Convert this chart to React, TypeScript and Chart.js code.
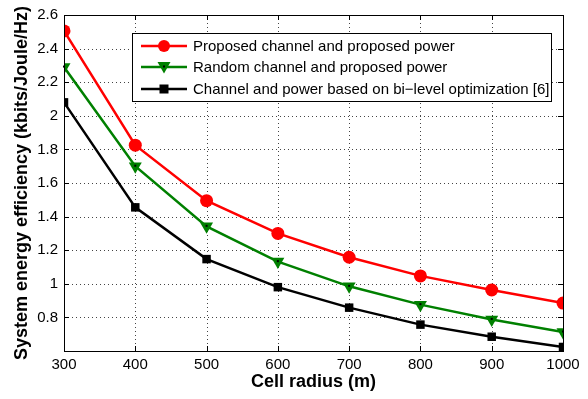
import React, { useEffect, useRef } from "react";
import { Chart, registerables } from "chart.js";

Chart.register(...registerables);

const cellRadius = [300, 400, 500, 600, 700, 800, 900, 1000];
const proposedChannelProposedPower = [2.505, 1.825, 1.495, 1.3, 1.158, 1.047, 0.963, 0.885];
const randomChannelProposedPower = [2.29, 1.7, 1.342, 1.132, 0.985, 0.876, 0.788, 0.713];
const biLevelOptimization = [2.08, 1.455, 1.147, 0.98, 0.858, 0.757, 0.685, 0.624];
const seriesLabels = [
  "Proposed channel and proposed power",
  "Random channel and proposed power",
  "Channel and power based on bi\u2212level optimization [6]",
];
const yTicks = [0.8, 1, 1.2, 1.4, 1.6, 1.8, 2, 2.2, 2.4, 2.6];

const FONT = "'Liberation Sans', Arial, Helvetica, sans-serif";

const gridPlugin = {
  id: "dotgrid",
  beforeDatasetsDraw(chart: any) {
    const { ctx, chartArea: a, scales } = chart;
    ctx.save();
    ctx.strokeStyle = "#444";
    ctx.lineWidth = 1;
    ctx.setLineDash([1, 3]);
    ctx.beginPath();
    scales.x.ticks.forEach((t: any) => {
      const px = Math.round(scales.x.getPixelForValue(t.value)) + 0.5;
      if (px <= a.left + 1 || px >= a.right - 1) return;
      ctx.moveTo(px, a.top);
      ctx.lineTo(px, a.bottom);
    });
    scales.y.ticks.forEach((t: any) => {
      const py = Math.round(scales.y.getPixelForValue(t.value)) + 0.5;
      if (py <= a.top + 1 || py >= a.bottom - 1) return;
      ctx.moveTo(a.left, py);
      ctx.lineTo(a.right, py);
    });
    ctx.stroke();
    ctx.restore();
  },
};

const framePlugin = {
  id: "frame",
  afterDatasetsDraw(chart: any) {
    const { ctx } = chart;
    const meta = chart.getDatasetMeta(1);
    ctx.save();
    ctx.fillStyle = "#000";
    meta.data.forEach((p: any) => {
      ctx.fillRect(p.x - 1, p.y - 1.5, 2, 2);
    });
    ctx.restore();
  },
  afterDraw(chart: any) {
    const { ctx, chartArea: a, scales } = chart;
    ctx.save();
    ctx.strokeStyle = "#000";
    ctx.lineWidth = 1;
    ctx.strokeRect(Math.round(a.left) + 0.5, Math.round(a.top) + 0.5, Math.round(a.right - a.left), Math.round(a.bottom - a.top));
    ctx.beginPath();
    const tl = 5;
    scales.x.ticks.forEach((t: any) => {
      const px = Math.round(scales.x.getPixelForValue(t.value)) + 0.5;
      ctx.moveTo(px, a.bottom);
      ctx.lineTo(px, a.bottom - tl);
      ctx.moveTo(px, a.top);
      ctx.lineTo(px, a.top + tl);
    });
    scales.y.ticks.forEach((t: any) => {
      const py = Math.round(scales.y.getPixelForValue(t.value)) + 0.5;
      ctx.moveTo(a.left, py);
      ctx.lineTo(a.left + tl, py);
      ctx.moveTo(a.right, py);
      ctx.lineTo(a.right - tl, py);
    });
    ctx.stroke();

    // legend
    const lx = 132, ly = 33, lw = 419, lh = 68;
    ctx.fillStyle = "#fff";
    ctx.fillRect(lx, ly, lw, lh);
    ctx.strokeStyle = "#000";
    ctx.lineWidth = 1;
    ctx.strokeRect(lx + 0.5, ly + 0.5, lw, lh);
    const rows = [46, 67, 89];
    chart.data.datasets.forEach((ds: any, i: number) => {
      const y = rows[i];
      ctx.strokeStyle = ds.borderColor;
      ctx.lineWidth = 2.5;
      ctx.beginPath();
      ctx.moveTo(141, y);
      ctx.lineTo(187, y);
      ctx.stroke();
      ctx.fillStyle = ds.backgroundColor;
      const cx = 164;
      if (ds.pointStyle === "circle") {
        ctx.beginPath();
        ctx.arc(cx, y, 6, 0, Math.PI * 2);
        ctx.fill();
      } else if (ds.pointStyle === "triangle") {
        ctx.beginPath();
        ctx.moveTo(cx - 6.5, y - 5);
        ctx.lineTo(cx + 6.5, y - 5);
        ctx.lineTo(cx, y + 6.5);
        ctx.closePath();
        ctx.fill();
        ctx.fillStyle = "#000";
        ctx.fillRect(cx - 1, y - 1.5, 2, 2);
      } else {
        ctx.fillRect(cx - 4.5, y - 4.5, 9, 9);
      }
      ctx.fillStyle = "#000";
      ctx.font = "15px " + FONT;
      ctx.textBaseline = "middle";
      ctx.textAlign = "left";
      ctx.fillText(ds.label, 193, y + 0.5);
    });
    ctx.restore();
  },
};

export default function App() {
  const ref = useRef<HTMLCanvasElement>(null);
  useEffect(() => {
    document.body.style.margin = "0";
    const chart = new Chart(ref.current!, {
      type: "line",
      data: {
        labels: cellRadius,
        datasets: [
          {
            label: seriesLabels[0],
            data: cellRadius.map((x, i) => ({ x, y: proposedChannelProposedPower[i] })),
            borderColor: "#ff0000",
            backgroundColor: "#ff0000",
            pointStyle: "circle",
            pointRadius: 6.5,
            borderWidth: 2.5,
            pointBorderWidth: 0,
          },
          {
            label: seriesLabels[1],
            data: cellRadius.map((x, i) => ({ x, y: randomChannelProposedPower[i] })),
            borderColor: "#008000",
            backgroundColor: "#008000",
            pointStyle: "triangle",
            rotation: 180,
            pointRadius: 7.5,
            borderWidth: 2.5,
            pointBorderWidth: 0,
          },
          {
            label: seriesLabels[2],
            data: cellRadius.map((x, i) => ({ x, y: biLevelOptimization[i] })),
            borderColor: "#000000",
            backgroundColor: "#000000",
            pointStyle: "rect",
            pointRadius: 6,
            borderWidth: 2.5,
            pointBorderWidth: 0,
          },
        ],
      } as any,
      options: {
        animation: false,
        responsive: false,
        maintainAspectRatio: false,
        layout: { padding: { top: 12, right: 25, left: 0, bottom: 0 } },
        plugins: { legend: { display: false }, tooltip: { enabled: false } },
        scales: {
          x: {
            type: "linear",
            min: 300,
            max: 1000,
            afterFit: (s: any) => { s.height = 48; },
            ticks: {
              stepSize: 100,
              color: "#000",
              font: { family: FONT, size: 15 },
              padding: 5,
              callback: (v: any) => String(v),
            },
            grid: { display: false, drawTicks: false, tickLength: 0 },
            border: { display: false },
            title: {
              display: true,
              text: "Cell radius (m)",
              color: "#000",
              font: { family: FONT, size: 18, weight: "bold" },
              padding: { top: 0, bottom: 6 },
            },
          },
          y: {
            type: "linear",
            min: 0.6,
            max: 2.6,
            afterFit: (s: any) => { s.width = 64; },
            afterBuildTicks: (s: any) => { s.ticks = yTicks.map((v) => ({ value: v })); },
            ticks: {
              color: "#000",
              font: { family: FONT, size: 15 },
              padding: 6,
              callback: (v: any) => String(Math.round(Number(v) * 10) / 10),
            },
            grid: { display: false, drawTicks: false, tickLength: 0 },
            border: { display: false },
            title: {
              display: true,
              text: "System energy efficiency (kbits/Joule/Hz)",
              color: "#000",
              font: { family: FONT, size: 18, weight: "bold" },
              padding: { top: 11, bottom: 0 },
            },
          },
        },
      } as any,
      plugins: [gridPlugin, framePlugin],
    });
    return () => chart.destroy();
  }, []);
  return <canvas ref={ref} width={588} height={399} style={{ display: "block" }} />;
}
